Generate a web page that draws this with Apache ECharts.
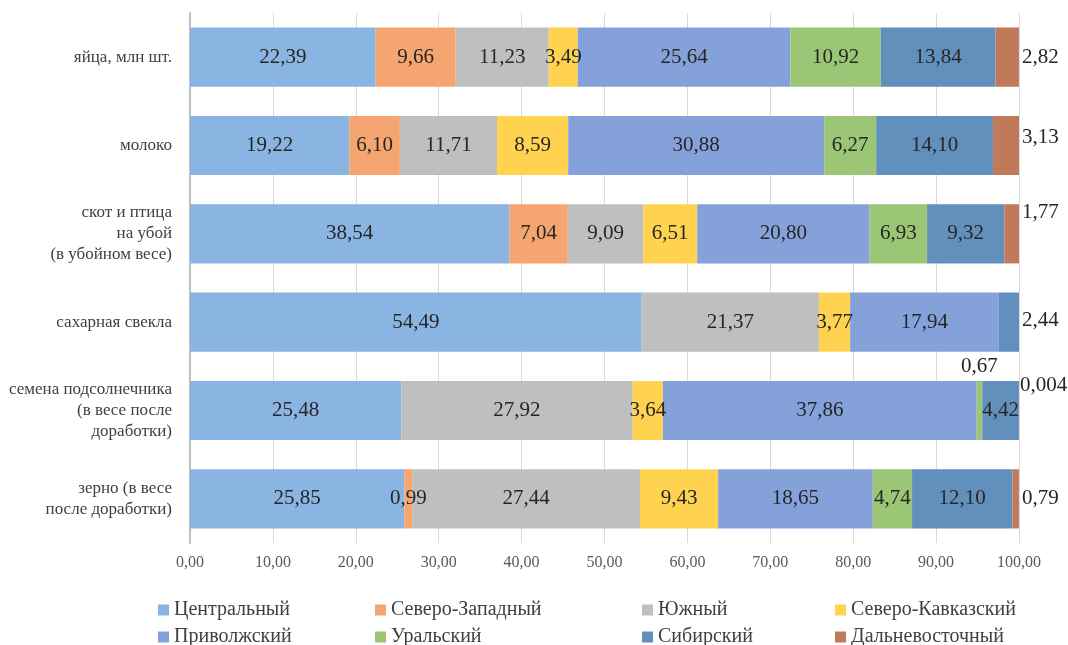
<!DOCTYPE html>
<html>
<head>
<meta charset="utf-8">
<script src="https://cdn.jsdelivr.net/npm/echarts@6/dist/echarts.min.js"></script>
<style>
  html, body { margin: 0; padding: 0; background: #fff; }
  #chart { width: 1068px; height: 645px; }
</style>
</head>
<body>
<div id="chart"></div>
<script>
// категории сверху вниз
const categories = [
  'яйца, млн шт.',
  'молоко',
  'скот и птица\nна убой\n(в убойном весе)',
  'сахарная свекла',
  'семена подсолнечника\n(в весе после\nдоработки)',
  'зерно (в весе\nпосле доработки)'
];

const regions = ['Центральный', 'Северо-Западный', 'Южный', 'Северо-Кавказский',
  'Приволжский', 'Уральский', 'Сибирский', 'Дальневосточный'];

const central       = [22.39, 19.22, 38.54, 54.49, 25.48, 25.85];
const northWest     = [9.66, 6.10, 7.04, null, null, 0.99];
const south         = [11.23, 11.71, 9.09, 21.37, 27.92, 27.44];
const northCaucasus = [3.49, 8.59, 6.51, 3.77, 3.64, 9.43];
const volga         = [25.64, 30.88, 20.80, 17.94, 37.86, 18.65];
const ural          = [10.92, 6.27, 6.93, null, 0.67, 4.74];
const siberia       = [13.84, 14.10, 9.32, 2.44, 4.42, 12.10];
const farEast       = [2.82, 3.13, 1.77, null, 0.004, 0.79];

const xTicks = [0, 10, 20, 30, 40, 50, 60, 70, 80, 90, 100];

const seriesValues = [central, northWest, south, northCaucasus, volga, ural, siberia, farEast];
const colors = ['#8ab5e2', '#f5a570', '#bfbfbf', '#ffd350', '#84a1da', '#9ac676', '#6290bd', '#c17a59'];

const fmt = v => (v < 0.01 ? v.toFixed(3) : v.toFixed(2)).replace('.', ',');

// подписи, вынесенные за пределы столбца
const outside = {
  7: { 0: [0, 0], 1: [0, -8], 2: [0, -21], 4: [-2, -25], 5: [0, 0] },
  6: { 3: [0, -2] }
};

const series = seriesValues.map((vals, si) => ({
  name: regions[si],
  type: 'bar',
  stack: 'total',
  barCategoryGap: '33%',
  itemStyle: { color: colors[si] },
  label: {
    show: true,
    position: 'inside',
    fontFamily: 'Liberation Serif',
    fontSize: 21,
    color: '#262626',
    formatter: p => (p.value == null ? '' : fmt(p.value))
  },
  data: vals.map((v, ci) => {
    if (v == null) return null;
    if (outside[si] && outside[si][ci]) {
      return { value: v, label: { position: 'right', distance: 3, offset: outside[si][ci] } };
    }
    if (si === 5 && ci === 4) {
      return { value: v, label: { position: 'top', distance: 4 } };
    }
    return v;
  })
}));

// легенда: 4 колонки по 2 строки, каждый пункт отдельно
const legendCols = [158, 375, 642, 835];
const legendRows = [600, 627];
const legends = regions.map((name, k) => ({
  left: legendCols[k % 4],
  top: legendRows[Math.floor(k / 4)],
  padding: 0,
  itemWidth: 11,
  itemHeight: 11,
  icon: 'rect',
  data: [name],
  textStyle: { fontFamily: 'Liberation Serif', fontSize: 20, color: '#404040' }
}));

const chart = echarts.init(document.getElementById('chart'));
chart.setOption({
  animation: false,
  grid: { left: 190, right: 49, top: 13, bottom: 102 },
  legend: legends,
  xAxis: {
    type: 'value',
    min: xTicks[0],
    max: xTicks[xTicks.length - 1],
    interval: 10,
    axisLine: { show: false },
    axisTick: { show: false },
    splitLine: { lineStyle: { color: '#d9d9d9', width: 1 } },
    axisLabel: {
      fontFamily: 'Liberation Serif',
      fontSize: 16,
      color: '#595959',
      margin: 12,
      formatter: v => v.toFixed(2).replace('.', ',')
    }
  },
  yAxis: {
    type: 'category',
    inverse: true,
    data: categories,
    axisLine: { show: true, lineStyle: { color: '#bfbfbf', width: 2 } },
    axisTick: { show: false },
    axisLabel: {
      fontFamily: 'Liberation Serif',
      fontSize: 17,
      lineHeight: 21,
      color: '#404040',
      margin: 18,
      align: 'right'
    }
  },
  series: series
});
</script>
</body>
</html>
